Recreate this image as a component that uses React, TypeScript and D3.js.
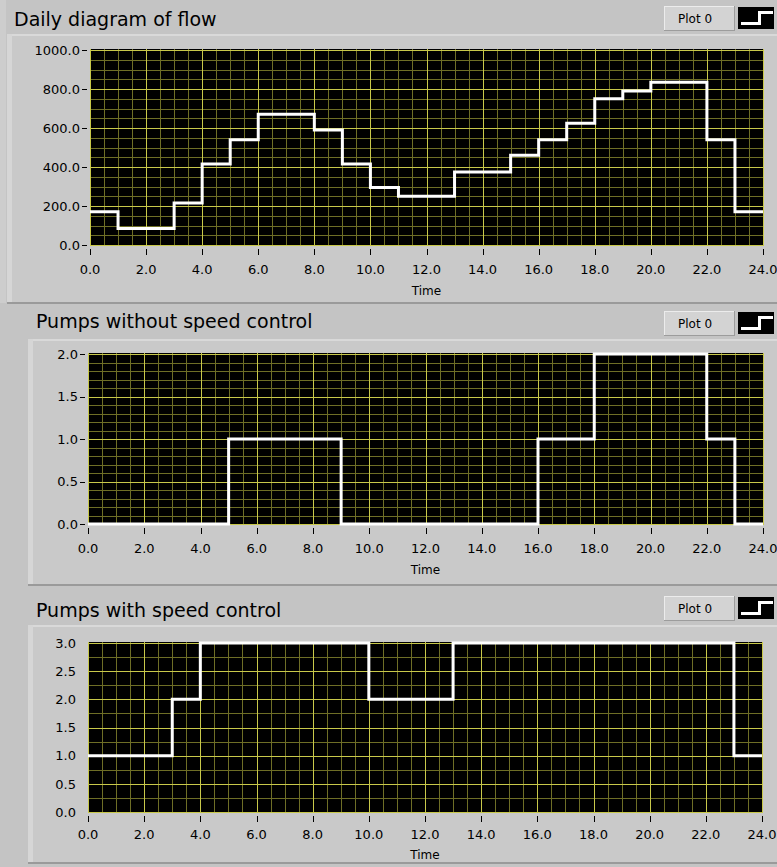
import React from 'react';
import * as d3 from 'd3';

// Hourly step data over one day (value holds from each start hour to the next)
const hourStarts = [0, 1, 2, 3, 4, 5, 6, 7, 8, 9, 10, 11, 12, 13, 14, 15, 16, 17, 18, 19, 20, 21, 22, 23];
const dayEnd = 24;

const flowValues = [170, 85, 85, 215, 415, 540, 670, 670, 590, 415, 295, 250, 250, 375, 375, 460, 540, 625, 750, 790, 835, 835, 540, 170];
const pumpsFixedValues = [0, 0, 0, 0, 0, 1, 1, 1, 1, 0, 0, 0, 0, 0, 0, 0, 1, 1, 2, 2, 2, 2, 1, 0];
const pumpsSpeedValues = [1, 1, 1, 2, 3, 3, 3, 3, 3, 3, 2, 2, 2, 3, 3, 3, 3, 3, 3, 3, 3, 3, 3, 1];

const timeTicks = [0, 2, 4, 6, 8, 10, 12, 14, 16, 18, 20, 22, 24];
const flowTicks = [0, 200, 400, 600, 800, 1000];
const fixedTicks = [0, 0.5, 1, 1.5, 2];
const speedTicks = [0, 0.5, 1, 1.5, 2, 2.5, 3];

const panelTitles = ['Daily diagram of flow', 'Pumps without speed control', 'Pumps with speed control'];
const legendLabel = 'Plot 0';
const xAxisLabel = 'Time';

const FONT = "'DejaVu Sans', Verdana, sans-serif";
const MAJOR_GRID = '#c8c84a';
const MINOR_GRID = '#6e6e26';

type Box = { left: number; right: number; top: number; bottom: number };

type PanelProps = {
  title: string;
  titleX: number;
  titleBaseline: number;
  legendTop: number;
  frame: Box;
  plot: Box;
  values: number[];
  yTicks: number[];
  yMinorStep: number;
  tickDash: boolean;
  xLabelOffset: number;
  xTitleOffset: number;
};

function Legend({ top }: { top: number }) {
  const bx = 664, bw = 71, bh = 25;
  const sx = 738, sw = 36, sh = 22;
  return (
    <g>
      <rect x={bx} y={top} width={bw} height={bh} fill="#d3d3d3" />
      <line x1={bx} y1={top + 0.5} x2={bx + bw} y2={top + 0.5} stroke="#ececec" />
      <line x1={bx + 0.5} y1={top} x2={bx + 0.5} y2={top + bh} stroke="#ececec" />
      <line x1={bx} y1={top + bh - 0.5} x2={bx + bw} y2={top + bh - 0.5} stroke="#9c9c9c" />
      <line x1={bx + bw - 0.5} y1={top} x2={bx + bw - 0.5} y2={top + bh} stroke="#9c9c9c" />
      <text x={bx + 14} y={top + bh / 2} dy="0.36em" fontSize={12} fontFamily={FONT} fill="#000">
        {legendLabel}
      </text>
      <rect x={sx} y={top + 1} width={sw} height={sh} fill="#000" />
      <path
        d={`M${sx + 3},${top + 17.5} H${sx + 21.5} V${top + 6.5} H${sx + sw - 1}`}
        fill="none"
        stroke="#fff"
        strokeWidth={3}
      />
    </g>
  );
}

function Panel(p: PanelProps) {
  const { plot, frame } = p;
  const yMax = p.yTicks[p.yTicks.length - 1];
  const x = d3.scaleLinear().domain([0, dayEnd]).range([plot.left, plot.right]);
  const y = d3.scaleLinear().domain([0, yMax]).range([plot.bottom, plot.top]);

  const xGrid = d3.range(0, dayEnd + 1e-9, 0.5);
  const yGrid = d3.range(0, yMax + 1e-9, p.yMinorStep);
  const isMajorX = (v: number) => timeTicks.some((t) => Math.abs(t - v) < 1e-6);
  const isMajorY = (v: number) => p.yTicks.some((t) => Math.abs(t - v) < 1e-6);

  const pts: [number, number][] = hourStarts.map((h, i) => [h, p.values[i]]);
  pts.push([dayEnd, p.values[p.values.length - 1]]);
  const line = d3
    .line<[number, number]>()
    .x((d) => x(d[0]))
    .y((d) => y(d[1]))
    .curve(d3.curveStepAfter);

  const snap = (v: number) => Math.round(v) + 0.5;

  return (
    <g>
      {/* raised frame around the graph */}
      <rect x={frame.left} y={frame.top} width={frame.right - frame.left} height={frame.bottom - frame.top} fill="#c9c9c9" />
      <rect x={frame.left} y={frame.top} width={frame.right - frame.left} height={2} fill="#d9d9d9" />
      <rect x={frame.left} y={frame.top} width={5} height={frame.bottom - frame.top} fill="#d6d6d6" />
      <rect x={frame.left} y={frame.bottom - 2} width={frame.right - frame.left} height={2} fill="#9a9a9a" />

      <text x={p.titleX} y={p.titleBaseline} fontSize={19} fontFamily={FONT} fill="#000">
        {p.title}
      </text>
      <Legend top={p.legendTop} />

      {/* plot area */}
      <rect x={plot.left} y={plot.top - 1} width={plot.right - plot.left + 1} height={plot.bottom - plot.top + 2} fill="#000" />
      {xGrid.filter((v) => !isMajorX(v)).map((v) => (
        <line key={`xm${v}`} x1={snap(x(v))} x2={snap(x(v))} y1={plot.top - 1} y2={plot.bottom + 1} stroke={MINOR_GRID} />
      ))}
      {yGrid.filter((v) => !isMajorY(v)).map((v) => (
        <line key={`ym${v}`} y1={snap(y(v))} y2={snap(y(v))} x1={plot.left} x2={plot.right + 1} stroke={MINOR_GRID} />
      ))}
      {timeTicks.map((v) => (
        <line key={`xM${v}`} x1={snap(x(v))} x2={snap(x(v))} y1={plot.top - 1} y2={plot.bottom + 1} stroke={MAJOR_GRID} />
      ))}
      {p.yTicks.map((v) => (
        <line key={`yM${v}`} y1={snap(y(v))} y2={snap(y(v))} x1={plot.left} x2={plot.right + 1} stroke={MAJOR_GRID} />
      ))}

      <path d={line(pts) ?? ''} fill="none" stroke="#fff" strokeWidth={3} strokeLinejoin="miter" />

      {/* y axis */}
      {p.yTicks.map((v) => (
        <g key={`yt${v}`}>
          {p.tickDash && (
            <line x1={plot.left - 8} x2={plot.left - 3} y1={snap(y(v))} y2={snap(y(v))} stroke="#000" />
          )}
          <text
            x={plot.left - (p.tickDash ? 10 : 12)}
            y={y(v)}
            dy="0.36em"
            textAnchor="end"
            fontSize={13}
            fontFamily={FONT}
            fill="#000"
          >
            {d3.format('.1f')(v)}
          </text>
        </g>
      ))}

      {/* x axis */}
      {timeTicks.map((v) => (
        <g key={`xt${v}`}>
          <line x1={snap(x(v))} x2={snap(x(v))} y1={plot.bottom + 4} y2={plot.bottom + 10} stroke="#000" />
          <text x={x(v)} y={plot.bottom + p.xLabelOffset} dy="0.36em" textAnchor="middle" fontSize={13} fontFamily={FONT} fill="#000">
            {d3.format('.1f')(v)}
          </text>
        </g>
      ))}
      <text x={(plot.left + plot.right) / 2} y={plot.bottom + p.xTitleOffset} dy="0.36em" textAnchor="middle" fontSize={12} fontFamily={FONT} fill="#000">
        {xAxisLabel}
      </text>
    </g>
  );
}

export default function App() {
  return (
    <svg
      width={777}
      height={867}
      style={{ position: 'absolute', left: 0, top: 0, display: 'block' }}
    >
      <rect x={0} y={0} width={777} height={867} fill="#c4c4c4" />
      <rect x={0} y={0} width={6} height={303} fill="#cdcdcd" />
      <Panel
        title={panelTitles[0]}
        titleX={14}
        titleBaseline={26}
        legendTop={6}
        frame={{ left: 7, right: 777, top: 34, bottom: 304 }}
        plot={{ left: 90, right: 763, top: 50, bottom: 245 }}
        values={flowValues}
        yTicks={flowTicks}
        yMinorStep={50}
        tickDash={true}
        xLabelOffset={24}
        xTitleOffset={46}
      />
      <Panel
        title={panelTitles[1]}
        titleX={36}
        titleBaseline={328}
        legendTop={311}
        frame={{ left: 28, right: 777, top: 339, bottom: 586 }}
        plot={{ left: 88, right: 763, top: 354, bottom: 524 }}
        values={pumpsFixedValues}
        yTicks={fixedTicks}
        yMinorStep={0.1}
        tickDash={true}
        xLabelOffset={24}
        xTitleOffset={46}
      />
      <Panel
        title={panelTitles[2]}
        titleX={36}
        titleBaseline={617}
        legendTop={596}
        frame={{ left: 28, right: 777, top: 625, bottom: 864 }}
        plot={{ left: 88, right: 762, top: 643, bottom: 812 }}
        values={pumpsSpeedValues}
        yTicks={speedTicks}
        yMinorStep={0.25}
        tickDash={false}
        xLabelOffset={22}
        xTitleOffset={43}
      />
    </svg>
  );
}
